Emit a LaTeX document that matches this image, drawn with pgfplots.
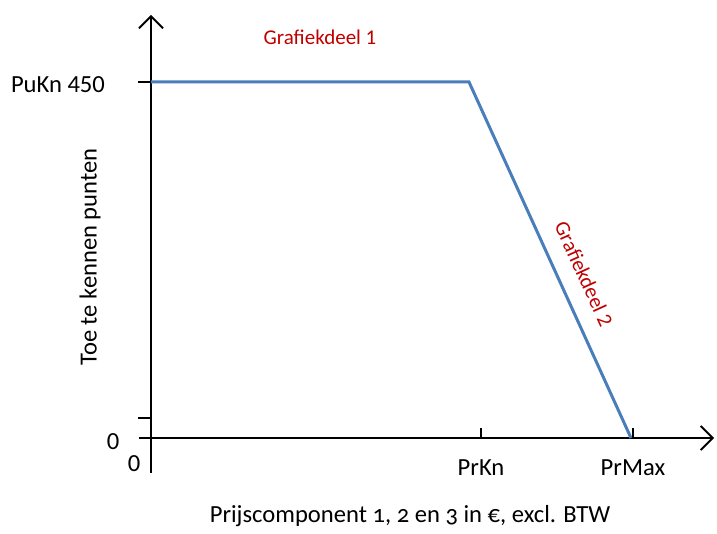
\documentclass[border=0pt]{standalone}
\usepackage{pgfplots}
\pgfplotsset{compat=1.18}
\usetikzlibrary{arrows.meta}
\usepackage{fontspec}
\setmainfont{Carlito}
\definecolor{lineblue}{HTML}{4A7EBB}
\definecolor{darkred}{HTML}{C00000}
\begin{document}
\begin{tikzpicture}[font=\fontsize{12.3}{15}\selectfont]
\begin{axis}[
  x=0.5pt, y=0.5pt,
  xmin=-12, xmax=563, ymin=-35, ymax=423,
  enlargelimits=false,
  axis lines=middle,
  axis line style={line width=0.9pt, -{Straight Barb[length=6pt,width=12pt,line width=0.9pt]}},
  xtick=\empty, ytick=\empty,
  clip=false,
]
\addplot[lineblue, line width=1.5pt] coordinates {(0,356) (318,356) (480,0)};
% ticks
\draw[line width=0.9pt] (axis cs:-13,356) -- (axis cs:0,356);
\draw[line width=0.9pt] (axis cs:-13,20) -- (axis cs:0,20);
\draw[line width=0.9pt] (axis cs:330,0) -- (axis cs:330,10);
\draw[line width=0.9pt] (axis cs:482,0) -- (axis cs:482,10);
% labels
\node[anchor=east] at (axis cs:-39,353) {PuKn 450};
\node at (axis cs:-38,-4) {0};
\node at (axis cs:-17,-26) {0};
\node at (axis cs:330,-30) {PrKn};
\node at (axis cs:482,-30) {PrMax};
\node at (axis cs:259,-78) {\addfontfeatures{Numbers=OldStyle}Prijscomponent 1, 2 en 3 in €, excl. BTW};
\node[rotate=90] at (axis cs:-61,181) {Toe te kennen punten};
\node[darkred, font=\fontsize{10.5}{13}\selectfont] at (axis cs:169,401) {Grafiekdeel 1};
\node[darkred, font=\fontsize{10.5}{13}\selectfont, rotate=-65.5] at (axis cs:433,164) {Grafiekdeel 2};
\path (axis cs:-151,-89) rectangle (axis cs:566,438);
\end{axis}
\end{tikzpicture}
\end{document}
